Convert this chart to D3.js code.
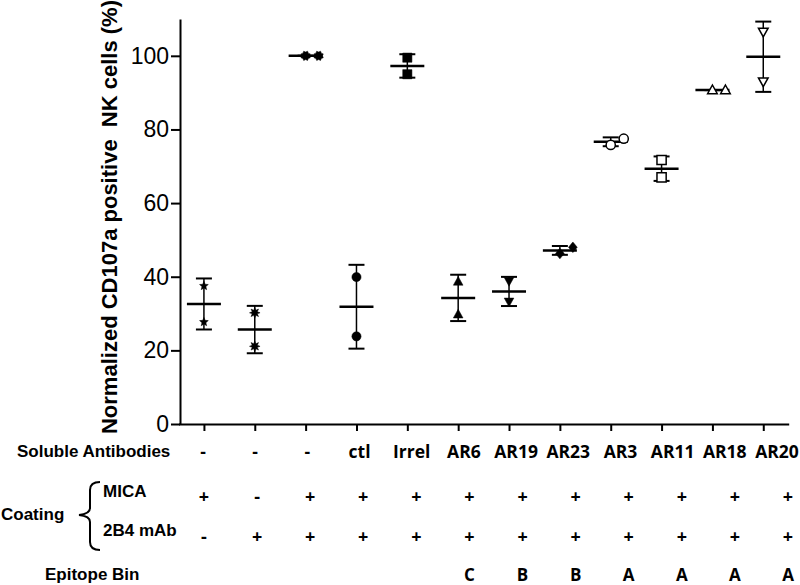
<!DOCTYPE html>
<html><head><meta charset="utf-8">
<script src="https://cdn.jsdelivr.net/npm/d3@7"></script>
<style>body{margin:0;background:#fff}svg{display:block}</style>
</head><body><svg id="chart" width="800" height="585"></svg>
<script>
// ---- data ----
const groups = [0,1,2,3,4,5,6,7,8,9,10,11];
const solubleAntibodies = ["-","-","-","ctl","Irrel","AR6","AR19","AR23","AR3","AR11","AR18","AR20"];
const coatingMICA = ["+","-","+","+","+","+","+","+","+","+","+","+"];
const coating2B4 = ["-","+","+","+","+","+","+","+","+","+","+","+"];
const epitopeBin = ["","","","","","C","B","B","A","A","A","A"];
const replicate1 = [37.5, 30.2, 100, 39.9, 99.5, 38.7, 38.8, 46.3, 75.8, 71.7, 90.7, 106.5];
const replicate2 = [27.7, 21.1, 100, 23.8, 95.0, 29.8, 33.2, 48.0, 77.5, 67.0, 90.7, 93.0];
const markerShapes = ["star","asterisk","flower","circle","square","triangle","triangleDown","diamond","circle","square","triangle","triangleDown"];
const markerFilled = [true,true,true,true,true,true,true,true,false,false,false,false];
const yTicks = [0,20,40,60,80,100];
const yTitle = "Normalized CD107a positive\u00a0\u00a0NK cells (%)";

// ---- setup ----
const svg = d3.select("#chart");
const x = d3.scalePoint().domain(groups).range([178.5, 788.7]).padding(0.5);
const y = d3.scaleLinear().domain([0,110]).range([424,19]);

// axes
const gy = svg.append("g").attr("transform","translate(180,0)")
  .call(d3.axisLeft(y).tickValues(yTicks).tickSize(9).tickSizeOuter(0).tickPadding(2));
gy.selectAll("text").attr("font-family","'Liberation Sans', Arial, sans-serif").attr("font-size",23).attr("fill","#000");
gy.selectAll("line,path").attr("stroke","#000").attr("stroke-width",2);

const gx = svg.append("g").attr("transform","translate(0,424)")
  .call(d3.axisBottom(x).tickSize(7).tickSizeOuter(0).tickFormat(""));
gx.selectAll("line,path").attr("stroke","#000").attr("stroke-width",2);

svg.append("text")
  .attr("transform","translate(109,217) rotate(-90)")
  .attr("text-anchor","middle").attr("dy","0.35em")
  .attr("font-family","'Liberation Sans', Arial, sans-serif").attr("font-weight","bold").attr("font-size",22)
  .text(yTitle);

// marker shapes
function markerPath(shape, r){
  const p = d3.path();
  const poly = pts => { pts.forEach((q,i)=> i? p.lineTo(q[0],q[1]) : p.moveTo(q[0],q[1])); p.closePath(); };
  const starPts = (n, ro, ri, rot) => d3.range(2*n).map(i=>{
    const a = rot + Math.PI*i/n; const rr = i%2? ri: ro;
    return [rr*Math.sin(a), -rr*Math.cos(a)];
  });
  switch(shape){
    case "star": poly(starPts(5, r, r*0.45, 0)); break;
    case "asterisk": poly(starPts(8, r*1.15, r*0.6, 0)); break;
    case "flower": poly(starPts(8, r*1.1, r*0.82, Math.PI/8)); break;
    case "circle": p.arc(0,0,r,0,2*Math.PI); break;
    case "square": poly([[-r,-r],[r,-r],[r,r],[-r,r]]); break;
    case "triangle": poly([[0,-r*1.1],[r*1.05,r*0.8],[-r*1.05,r*0.8]]); break;
    case "triangleDown": poly([[0,r*1.1],[r*1.05,-r*0.8],[-r*1.05,-r*0.8]]); break;
    case "diamond": poly([[0,-r*1.15],[r*0.95,0],[0,r*1.15],[-r*0.95,0]]); break;
  }
  return p.toString();
}

const g = svg.append("g");
groups.forEach(i=>{
  const vals = [replicate1[i], replicate2[i]];
  const m = d3.mean(vals), sd = d3.deviation(vals) || 0;
  const cx = x(i);
  g.append("line").attr("x1",cx).attr("x2",cx).attr("y1",y(m-sd)).attr("y2",y(m+sd)).attr("stroke","#000").attr("stroke-width",1.5);
  [m-sd, m+sd].forEach(v=> g.append("line").attr("x1",cx-8).attr("x2",cx+8).attr("y1",y(v)).attr("y2",y(v)).attr("stroke","#000").attr("stroke-width",2));
  g.append("line").attr("x1",cx-17).attr("x2",cx+17).attr("y1",y(m)).attr("y2",y(m)).attr("stroke","#000").attr("stroke-width",2.5);
  const overlap = Math.abs(y(vals[0]) - y(vals[1])) < 10;
  vals.forEach((v,k)=>{
    const px = cx + (overlap && k===1 ? 13 : 0);
    g.append("path").attr("d", markerPath(markerShapes[i], 4.6))
      .attr("transform",`translate(${px},${y(v)})`)
      .attr("fill", markerFilled[i] ? "#000" : "#fff")
      .attr("stroke","#000").attr("stroke-width", markerFilled[i] ? 0.5 : 1.5);
  });
});

// ---- table ----
const tableX = d3.scalePoint().domain(groups).range([204, 788]);
const labelX = d3.scalePoint().domain(groups).range([203, 777]);
const rowFont = "'Liberation Sans', Arial, sans-serif";
const colFont = "'Open Sans', Lato, sans-serif";
function rowLabel(txt, xx, yy){
  svg.append("text").attr("x",xx).attr("y",yy).attr("dy","0.35em")
    .attr("font-family",rowFont).attr("font-weight","bold").attr("font-size",17).text(txt);
}
rowLabel("Soluble Antibodies", 17, 451.5);
rowLabel("MICA", 103, 491);
rowLabel("2B4 mAb", 103, 530);
rowLabel("Coating", 1, 514);
rowLabel("Epitope Bin", 45, 574);

function colRow(arr, sx, yy, fs){
  svg.append("g").selectAll("text").data(groups).join("text")
    .attr("x", d=>sx(d)).attr("y", yy).attr("dy","0.35em").attr("text-anchor","middle")
    .attr("font-family",colFont).attr("font-weight","bold").attr("font-size",fs)
    .text(d=>arr[d]);
}
colRow(solubleAntibodies, labelX, 451.5, 17.5);
colRow(coatingMICA, tableX, 497, 18);
colRow(coating2B4, tableX, 537, 18);
colRow(epitopeBin, tableX, 575, 17);

// brace
const bp = d3.path();
bp.moveTo(100,482); bp.quadraticCurveTo(90,482,90,490); bp.lineTo(90,508);
bp.quadraticCurveTo(90,514,79,515); bp.quadraticCurveTo(90,516,90,522);
bp.lineTo(90,542); bp.quadraticCurveTo(90,550,100,550);
svg.append("path").attr("d",bp.toString()).attr("fill","none").attr("stroke","#000").attr("stroke-width",2);
</script>
</body></html>
